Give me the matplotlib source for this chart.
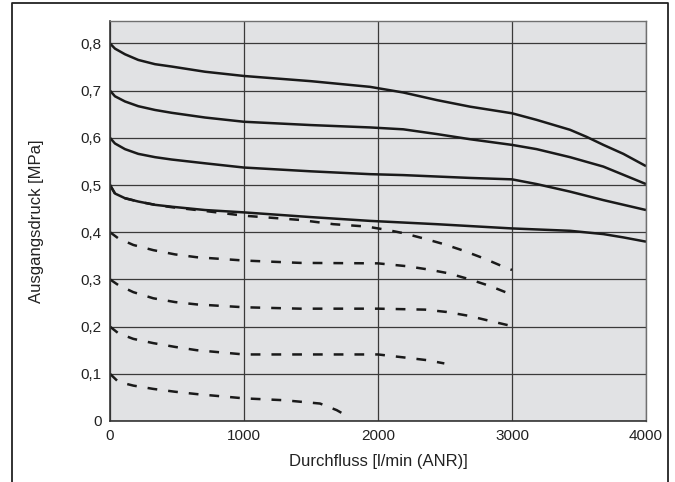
import numpy as np
import matplotlib
matplotlib.use("Agg")
import matplotlib.pyplot as plt
from matplotlib.lines import Line2D

plt.rcParams['font.family'] = ['Liberation Sans', 'DejaVu Sans']

# durchgezogene Kennlinien (Einstelldruck 0.8 / 0.7 / 0.6 / 0.5)
x08 = [0, 37, 112, 211, 336, 460, 709, 1000, 1500, 1940, 2189, 2438, 2687, 3000, 3184, 3433, 3557, 3682, 3831, 4000]
p08 = [0.80, 0.789, 0.777, 0.765, 0.756, 0.751, 0.740, 0.731, 0.720, 0.708, 0.696, 0.680, 0.666, 0.652, 0.638, 0.617, 0.602, 0.585, 0.566, 0.540]
x07 = [0, 37, 112, 211, 336, 460, 709, 1000, 1500, 1940, 2189, 2438, 2687, 3000, 3184, 3433, 3682, 4000]
p07 = [0.70, 0.688, 0.677, 0.667, 0.659, 0.653, 0.643, 0.634, 0.627, 0.622, 0.618, 0.608, 0.597, 0.585, 0.576, 0.559, 0.539, 0.502]
p06 = [0.60, 0.588, 0.576, 0.566, 0.559, 0.554, 0.546, 0.537, 0.529, 0.523, 0.521, 0.518, 0.515, 0.512, 0.502, 0.486, 0.468, 0.447]
x05 = [0, 37, 112, 211, 336, 460, 709, 1000, 1500, 1940, 2438, 3000, 3433, 3682, 3831, 4000]
p05 = [0.50, 0.482, 0.472, 0.465, 0.458, 0.454, 0.447, 0.442, 0.432, 0.424, 0.417, 0.408, 0.403, 0.396, 0.389, 0.380]

# gestrichelte Kennlinien
x05s = [0, 37, 112, 211, 336, 460, 709, 1000, 1418, 1667, 1915, 2065, 2189, 2338, 2488, 2637, 2786, 2935, 3000]
p05s = [0.50, 0.482, 0.472, 0.465, 0.458, 0.453, 0.445, 0.435, 0.426, 0.417, 0.412, 0.405, 0.398, 0.387, 0.375, 0.361, 0.345, 0.327, 0.320]
x04s = [0, 62, 174, 323, 485, 647, 1000, 1418, 2000, 2214, 2376, 2525, 2674, 2836, 2960, 3000]
p04s = [0.40, 0.387, 0.373, 0.362, 0.353, 0.347, 0.340, 0.335, 0.334, 0.328, 0.321, 0.313, 0.301, 0.286, 0.272, 0.267]
x03s = [0, 62, 174, 323, 485, 647, 1000, 1418, 2000, 2350, 2512, 2674, 2836, 3000]
p03s = [0.30, 0.288, 0.273, 0.260, 0.252, 0.247, 0.241, 0.238, 0.238, 0.236, 0.231, 0.223, 0.212, 0.201]
x02s = [0, 62, 174, 323, 485, 647, 1000, 1418, 2000, 2214, 2363, 2495]
p02s = [0.20, 0.186, 0.174, 0.165, 0.157, 0.150, 0.141, 0.141, 0.141, 0.134, 0.129, 0.122]
x01s = [0, 62, 174, 323, 485, 647, 1000, 1300, 1567, 1692, 1760]
p01s = [0.10, 0.083, 0.075, 0.068, 0.062, 0.057, 0.048, 0.044, 0.037, 0.023, 0.012]

yticks = [0, 0.1, 0.2, 0.3, 0.4, 0.5, 0.6, 0.7, 0.8]
ylabels = ["0", "0,1", "0,2", "0,3", "0,4", "0,5", "0,6", "0,7", "0,8"]
xticks = [0, 1000, 2000, 3000, 4000]

fig = plt.figure(figsize=(6.75, 4.82), dpi=100)
ax = fig.add_axes([110/675, 1-421/482, 536/675, 400/482])
ax.set_facecolor("#e1e2e4")

ax.set_xlim(0, 4000)
ax.set_ylim(0, 0.8475)
ax.set_xticks(xticks)
ax.set_yticks(yticks)
ax.set_yticklabels(ylabels)
ax.tick_params(length=0, labelsize=11, colors="#222222", pad=6)
ax.grid(True, color="#3a3a3a", linewidth=0.9)
ax.set_axisbelow(True)
for s in ["top", "right"]:
    ax.spines[s].set_color("#707070")
    ax.spines[s].set_linewidth(1.0)
for s in ["left", "bottom"]:
    ax.spines[s].set_color("#333333")
    ax.spines[s].set_linewidth(1.2)

kw = dict(color="#1a1a1a", linewidth=1.8, solid_capstyle="butt", solid_joinstyle="round")
ax.plot(x08, p08, **kw)
ax.plot(x07, p07, **kw)
ax.plot(x07, p06, **kw)
ax.plot(x05, p05, **kw)

ds = (0, (3.9, 4.4))
for xx, yy in [(x05s, p05s), (x04s, p04s), (x03s, p03s), (x02s, p02s), (x01s, p01s)]:
    ax.plot(xx, yy, color="#1a1a1a", linewidth=1.8, linestyle=ds, dash_capstyle="butt")

ax.set_xlabel("Durchfluss [l/min (ANR)]", fontsize=12, color="#222222", labelpad=8)
ax.set_ylabel("Ausgangsdruck [MPa]", fontsize=12, color="#222222", labelpad=26)

# Rahmen um das Bild (unten offen)
fx = [12/675, 12/675, 668/675, 668/675]
fy = [0, 1-3/482, 1-3/482, 0]
fig.add_artist(Line2D(fx, fy, transform=fig.transFigure, color="#222222", linewidth=1.3))

fig.savefig("out.png", dpi=100)
